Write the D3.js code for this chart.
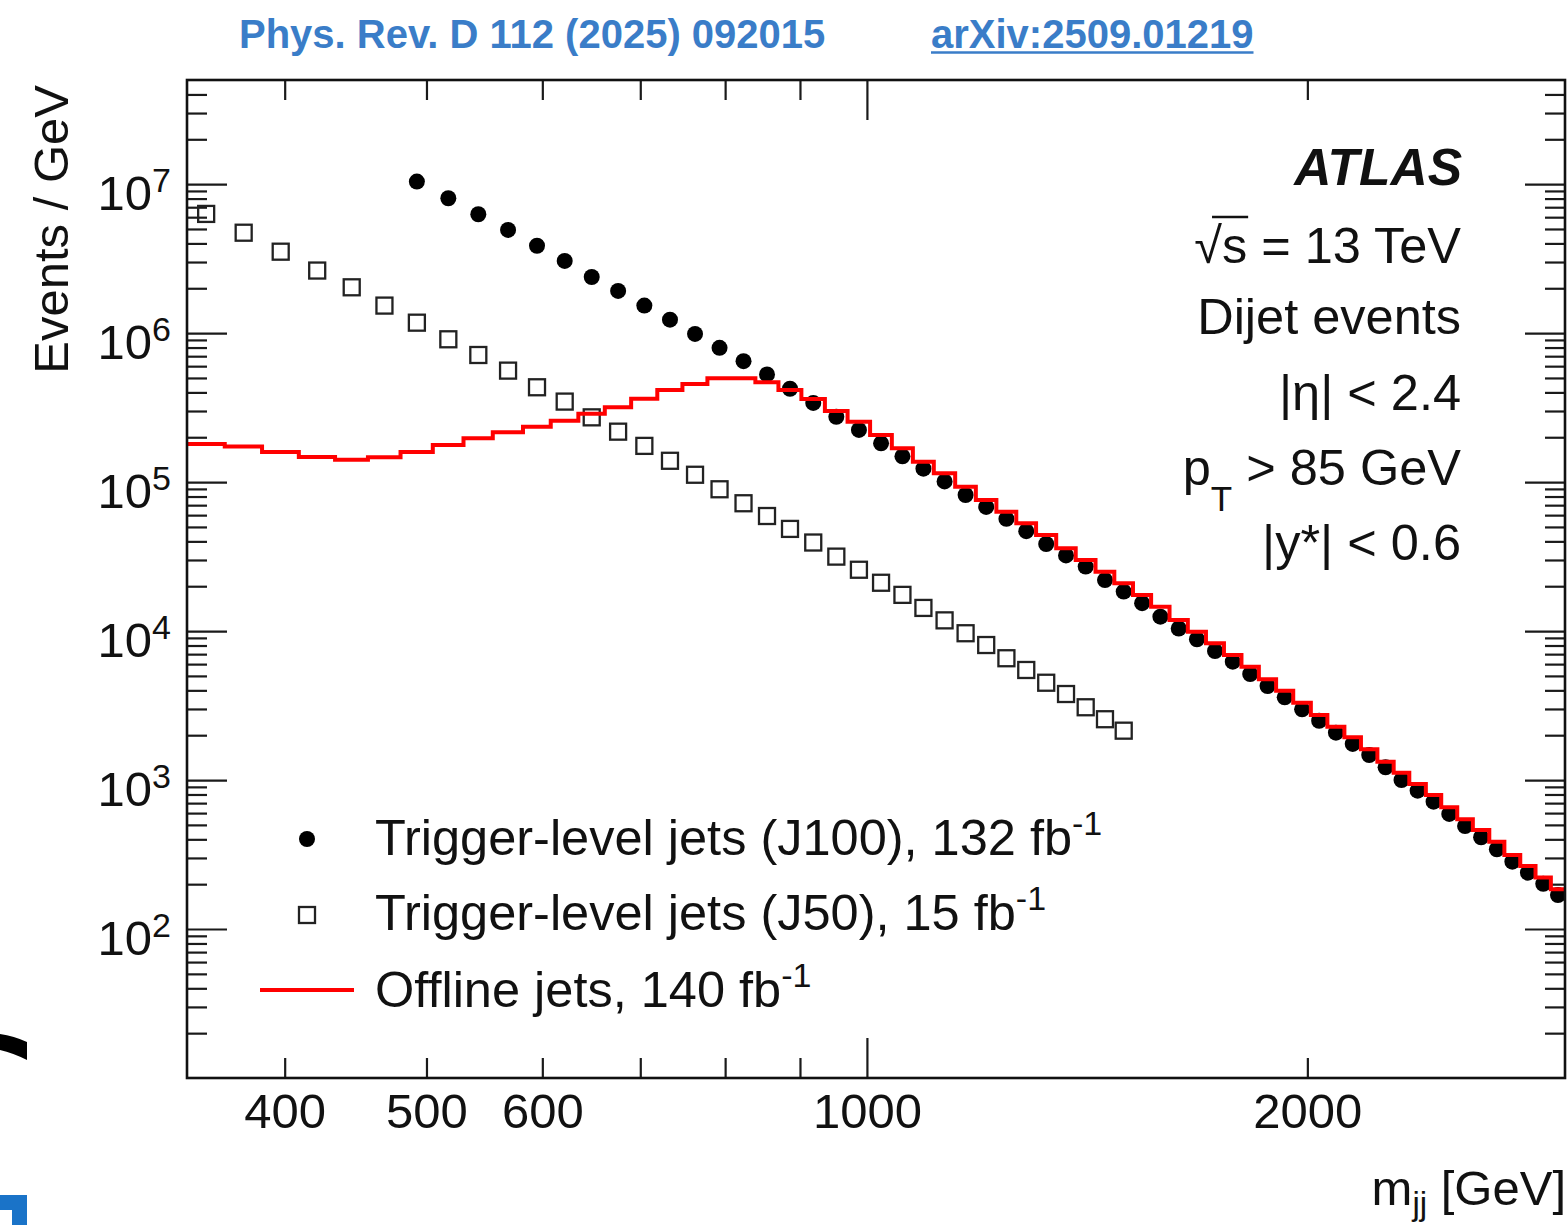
<!DOCTYPE html>
<html>
<head>
<meta charset="utf-8">
<script src="https://cdn.jsdelivr.net/npm/d3@7"></script>
<style>
  html, body { margin: 0; padding: 0; background: #ffffff; }
  svg { display: block; }
  text { font-family: "Liberation Sans", Arial, Helvetica, sans-serif; }
</style>
</head>
<body>
<svg id="chart" width="1568" height="1225"></svg>
<script>
// ---------------- DATA ----------------
// common m_jj bin edges [GeV]
const binEdges = [343, 364, 386, 409, 433, 456, 480, 505, 530, 555, 582, 608, 635, 662, 690, 719, 748, 778, 808, 839,
  870, 902, 936, 970, 1005, 1040, 1075, 1111, 1149, 1187, 1226, 1265, 1305, 1347, 1389, 1433, 1476, 1520, 1564, 1610,
  1657, 1705, 1754, 1803, 1853, 1904, 1956, 2011, 2064, 2120, 2176, 2233, 2291, 2348, 2410, 2469, 2532, 2595, 2663, 2727,
  2796, 2864, 2934, 3000];

// Trigger-level jets (J100), 132 fb^-1 : events / GeV, starting at bin index 6
const j100FirstBin = 6;
const j100Values = [1.04e7, 8.04e6, 6.28e6, 4.93e6, 3.86e6, 3.05e6, 2.38e6, 1.92e6, 1.53e6, 1.23e6,
  9.87e5, 7.97e5, 6.48e5, 5.28e5, 4.23e5, 3.40e5, 2.74e5, 2.24e5, 1.82e5, 1.49e5,
  1.23e5, 1.01e5, 8.19e4, 6.81e4, 5.67e4, 4.68e4, 3.84e4, 3.22e4, 2.71e4, 2.20e4,
  1.84e4, 1.54e4, 1.25e4, 1.04e4, 8810, 7350, 6230, 5150, 4280, 3590,
  2985, 2500, 2080, 1747, 1473, 1218, 1001, 848, 716, 592,
  491, 413, 343, 283, 239, 201, 169];

// Trigger-level jets (J50), 15 fb^-1 : starting at bin index 0
const j50FirstBin = 0;
const j50Values = [6.31e6, 4.72e6, 3.52e6, 2.63e6, 2.03e6, 1.53e6, 1.175e6, 9.09e5, 7.13e5, 5.60e5,
  4.33e5, 3.47e5, 2.72e5, 2.18e5, 1.75e5, 1.39e5, 1.12e5, 8.95e4, 7.21e4, 5.92e4,
  4.85e4, 3.93e4, 3.16e4, 2.58e4, 2.11e4, 1.75e4, 1.43e4, 1.18e4, 9670, 8060,
  6570, 5480, 4500, 3780, 3080, 2560, 2145];

// Offline jets, 140 fb^-1 : histogram, one value per bin
const offlineValues = [1.80e5, 1.73e5, 1.59e5, 1.475e5, 1.41e5, 1.47e5, 1.59e5, 1.775e5, 1.97e5, 2.16e5,
  2.355e5, 2.585e5, 2.87e5, 3.18e5, 3.63e5, 4.15e5, 4.56e5, 4.98e5, 4.98e5, 4.68e5,
  4.15e5, 3.61e5, 3.00e5, 2.54e5, 2.07e5, 1.69e5, 1.37e5, 1.146e5, 9.32e4, 7.59e4,
  6.33e4, 5.29e4, 4.42e4, 3.60e4, 3.00e4, 2.505e4, 2.09e4, 1.747e4, 1.458e4, 1.187e4,
  9910, 8280, 6910, 5770, 4750, 3980, 3306, 2733, 2282, 1936,
  1609, 1328, 1121, 941, 794, 656, 545, 462, 386, 314,
  265, 222, 185];

// axis setup
const xDomain = [343, 3000];
const yDomain = [10, 5e7];
const xLabelTicks = [400, 500, 600, 1000, 2000];
const yLabelExponents = [2, 3, 4, 5, 6, 7];

const legendLabels = ["Trigger-level jets (J100), 132 fb", "Trigger-level jets (J50), 15 fb", "Offline jets, 140 fb"];
const legendSup = "-1";
const infoLines = ["ATLAS", "√s = 13 TeV", "Dijet events", "|η| < 2.4", "p_T > 85 GeV", "|y*| < 0.6"];

// ---------------- LAYOUT ----------------
const L = 187, R = 1565, T = 80, B = 1078;
const FS = 49, FS2 = 50.5;
const svg = d3.select("#chart");

const x = d3.scaleLog().domain(xDomain).range([L, R]);
const y = d3.scaleLog().domain(yDomain).range([B, T]);

// header
const blue = "#3a7dc8";
svg.append("text").attr("x", 239).attr("y", 48)
  .attr("font-size", 40).attr("font-weight", "bold").attr("fill", blue)
  .text("Phys. Rev. D 112 (2025) 092015");
const arx = svg.append("text").attr("x", 931).attr("y", 48)
  .attr("font-size", 40).attr("font-weight", "bold").attr("fill", blue)
  .text("arXiv:2509.01219");
const arxW = arx.node().getComputedTextLength();
svg.append("line").attr("x1", 931).attr("x2", 931 + arxW).attr("y1", 52.5).attr("y2", 52.5)
  .attr("stroke", blue).attr("stroke-width", 2.6);

// left-edge slide artifacts
svg.append("path").attr("d", "M0,1034 Q14,1036 27,1042 L27,1060 Q13,1053 0,1050 Z").attr("fill", "#000");
svg.append("rect").attr("x", 0).attr("y", 1195).attr("width", 27).attr("height", 30).attr("fill", "#1a73c8");
svg.append("rect").attr("x", 0).attr("y", 1210).attr("width", 12).attr("height", 15).attr("fill", "#fff");

// ticks
const xTicksAll = x.ticks();
const xMajor = xTicksAll.filter(d => Math.abs(Math.log10(d) - Math.round(Math.log10(d))) < 1e-9);
const xMinor = xTicksAll.filter(d => !xMajor.includes(d) && d < xDomain[1]);
const yTicksAll = y.ticks();
const yMajor = yTicksAll.filter(d => Math.abs(Math.log10(d) - Math.round(Math.log10(d))) < 1e-9 && d > yDomain[0]);
const yMinor = yTicksAll.filter(d => !yMajor.includes(d) && d > yDomain[0] && d < yDomain[1]);

function tickGroup(axis, tr, values, size) {
  const g = svg.append("g").attr("transform", tr)
    .call(axis.tickValues(values).tickSize(size).tickFormat(""));
  g.select(".domain").remove();
  g.selectAll(".tick line").attr("stroke", "#1a1a1a").attr("stroke-width", 2.2);
  return g;
}
tickGroup(d3.axisTop(x), `translate(0,${B})`, xMinor, 20);
tickGroup(d3.axisTop(x), `translate(0,${B})`, xMajor, 40);
tickGroup(d3.axisBottom(x), `translate(0,${T})`, xMinor, 20);
tickGroup(d3.axisBottom(x), `translate(0,${T})`, xMajor, 40);
tickGroup(d3.axisRight(y), `translate(${L},0)`, yMinor, 20);
tickGroup(d3.axisRight(y), `translate(${L},0)`, yMajor, 40);
tickGroup(d3.axisLeft(y), `translate(${R},0)`, yMinor, 20);
tickGroup(d3.axisLeft(y), `translate(${R},0)`, yMajor, 40);

// x labels
const gxl = svg.append("g").attr("transform", `translate(0,${B})`)
  .call(d3.axisBottom(x).tickValues(xLabelTicks).tickSize(0).tickPadding(15).tickFormat(d3.format("d")));
gxl.select(".domain").remove();
gxl.attr("font-family", null).attr("font-size", null);
gxl.selectAll(".tick text").attr("font-size", FS).attr("fill", "#111");

// y labels (10^n)
const gyl = svg.append("g").attr("transform", `translate(${L},0)`)
  .call(d3.axisLeft(y).tickValues(yLabelExponents.map(e => Math.pow(10, e))).tickSize(0).tickPadding(16).tickFormat(""));
gyl.select(".domain").remove();
gyl.attr("font-family", null).attr("font-size", null);
gyl.selectAll(".tick text").each(function(d) {
  const t = d3.select(this).attr("dy", null).attr("y", 25).attr("fill", "#111").attr("font-size", FS);
  t.append("tspan").text("10");
  t.append("tspan").attr("dy", -18).attr("font-size", 34).text(String(Math.round(Math.log10(d))));
});

// axis titles
svg.append("text").attr("transform", "translate(68,85) rotate(-90)").attr("text-anchor", "end")
  .attr("font-size", FS).attr("fill", "#111").text("Events / GeV");
const xt = svg.append("text").attr("x", 1566).attr("y", 1205).attr("text-anchor", "end")
  .attr("font-size", FS).attr("fill", "#111");
xt.append("tspan").text("m");
xt.append("tspan").attr("dy", 10).attr("font-size", 33).text("jj");
xt.append("tspan").attr("dy", -10).text(" [GeV]");

// clip
svg.append("clipPath").attr("id", "plotclip").append("rect")
  .attr("x", L).attr("y", T).attr("width", R - L).attr("height", B - T);
const plot = svg.append("g").attr("clip-path", "url(#plotclip)");

// J50 squares
const j50 = j50Values.map((v, i) => ({ lo: binEdges[j50FirstBin + i], hi: binEdges[j50FirstBin + i + 1], v }));
const sq = 16;
plot.append("g").selectAll("rect").data(j50).join("rect")
  .attr("x", d => x((d.lo + d.hi) / 2) - sq / 2).attr("y", d => y(d.v) - sq / 2)
  .attr("width", sq).attr("height", sq)
  .attr("fill", "none").attr("stroke", "#222").attr("stroke-width", 2.3);

// J100 circles
const j100 = j100Values.map((v, i) => ({ lo: binEdges[j100FirstBin + i], hi: binEdges[j100FirstBin + i + 1], v }));
plot.append("g").selectAll("circle").data(j100).join("circle")
  .attr("cx", d => x((d.lo + d.hi) / 2)).attr("cy", d => y(d.v)).attr("r", 8).attr("fill", "#000");

// Offline histogram
const histPts = offlineValues.map((v, i) => [binEdges[i], v]);
histPts.push([binEdges[offlineValues.length], offlineValues[offlineValues.length - 1]]);
const stepLine = d3.line().x(d => x(d[0])).y(d => y(d[1])).curve(d3.curveStepAfter);
plot.append("path").attr("d", stepLine(histPts)).attr("fill", "none")
  .attr("stroke", "#ff0000").attr("stroke-width", 4);

// frame
svg.append("rect").attr("x", L).attr("y", T).attr("width", R - L).attr("height", B - T)
  .attr("fill", "none").attr("stroke", "#111").attr("stroke-width", 2.6);

// legend
const lg = svg.append("g");
lg.append("circle").attr("cx", 307).attr("cy", 839).attr("r", 8).attr("fill", "#000");
lg.append("rect").attr("x", 307 - sq / 2).attr("y", 915 - sq / 2).attr("width", sq).attr("height", sq)
  .attr("fill", "none").attr("stroke", "#222").attr("stroke-width", 2.3);
lg.append("line").attr("x1", 260).attr("x2", 354).attr("y1", 990).attr("y2", 990)
  .attr("stroke", "#ff0000").attr("stroke-width", 4);
const legBase = [855, 930, 1007];
legendLabels.forEach((s, i) => {
  const t = lg.append("text").attr("x", 375).attr("y", legBase[i]).attr("font-size", FS2).attr("fill", "#111");
  t.append("tspan").text(s);
  t.append("tspan").attr("dy", -20).attr("font-size", 34).text(legendSup);
});

// info block
const infoX = 1461;
const infoBase = [185, 263, 334, 410, 485, 560];
const ib = svg.append("g").attr("fill", "#111");
ib.append("text").attr("x", infoX + 1).attr("y", infoBase[0]).attr("text-anchor", "end")
  .attr("font-size", 51.5).attr("font-weight", "bold").attr("font-style", "italic").text(infoLines[0]);
const sq13 = ib.append("text").attr("x", infoX).attr("y", infoBase[1]).attr("text-anchor", "end")
  .attr("font-size", FS2).text(infoLines[1]);
{
  const n = sq13.node();
  const s0 = n.getStartPositionOfChar(1).x, s1 = n.getEndPositionOfChar(1).x;
  const r0 = n.getStartPositionOfChar(0).x;
  svg.append("line").attr("x1", (r0 + s0) / 2 + 4).attr("x2", s1 + 1)
    .attr("y1", infoBase[1] - 46).attr("y2", infoBase[1] - 46).attr("stroke", "#111").attr("stroke-width", 2.4);
}
ib.append("text").attr("x", infoX).attr("y", infoBase[2]).attr("text-anchor", "end")
  .attr("font-size", FS2).text(infoLines[2]);
ib.append("text").attr("x", infoX).attr("y", infoBase[3]).attr("text-anchor", "end")
  .attr("font-size", FS2).text(infoLines[3]);
{
  const t = ib.append("text").attr("x", infoX).attr("y", infoBase[4]).attr("text-anchor", "end").attr("font-size", FS2);
  const parts = infoLines[4].split("_");
  t.append("tspan").text(parts[0]);
  t.append("tspan").attr("dy", 26).attr("font-size", 35).text(parts[1].charAt(0));
  t.append("tspan").attr("dy", -26).text(parts[1].slice(1));
}
ib.append("text").attr("x", infoX).attr("y", infoBase[5]).attr("text-anchor", "end")
  .attr("font-size", FS2).text(infoLines[5]);
</script>
</body>
</html>
